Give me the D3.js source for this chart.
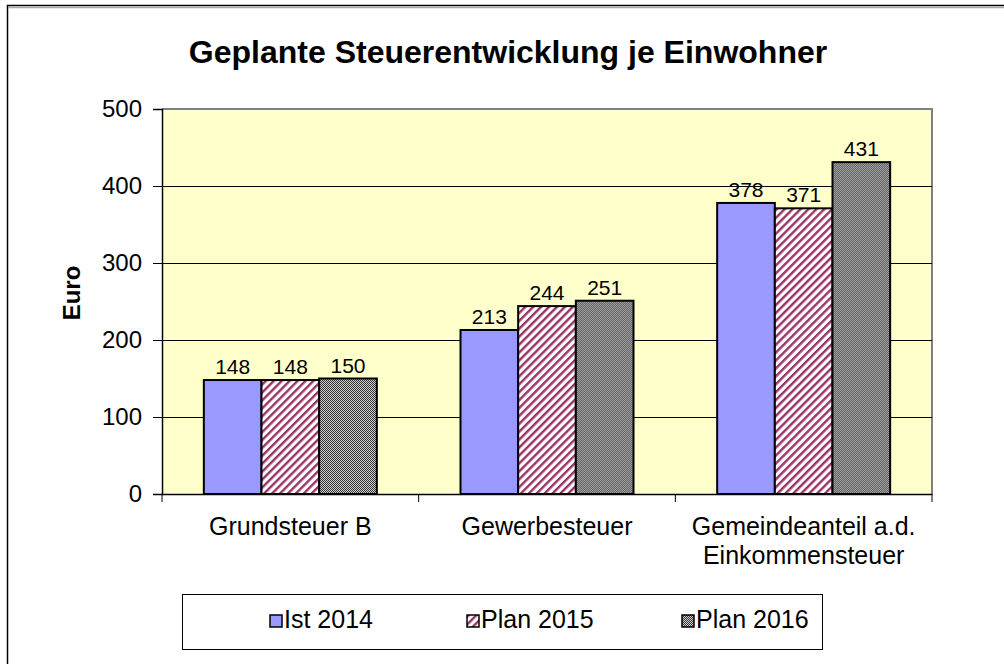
<!DOCTYPE html>
<html>
<head>
<meta charset="utf-8">
<script src="https://cdn.jsdelivr.net/npm/d3@7"></script>
<style>
  body { margin: 0; background: #fff; }
  svg { display: block; font-family: "Liberation Sans", Arial, sans-serif; }
</style>
</head>
<body>
<svg id="svg"></svg>
<script>
const categories = ["Grundsteuer B", "Gewerbesteuer", "Gemeindeanteil a.d.|Einkommensteuer"];
const seriesNames = ["Ist 2014", "Plan 2015", "Plan 2016"];
const ist2014 = [148, 213, 378];
const plan2015 = [148, 244, 371];
const plan2016 = [150, 251, 431];
const yTicks = [0, 100, 200, 300, 400, 500];

const width = 1004, height = 664;
const plot = { left: 162, right: 932, top: 109, bottom: 494 };

const svg = d3.select("#svg").attr("width", width).attr("height", height);

// patterns
const defs = svg.append("defs");
const stripe = defs.append("pattern")
    .attr("id", "stripe").attr("patternUnits", "userSpaceOnUse")
    .attr("width", 5.6).attr("height", 5.6)
    .attr("patternTransform", "rotate(45)");
stripe.append("rect").attr("width", 5.6).attr("height", 5.6).attr("fill", "#fff");
stripe.append("rect").attr("width", 2.4).attr("height", 5.6).attr("fill", "#993366");

const dots = defs.append("pattern")
    .attr("id", "dots").attr("patternUnits", "userSpaceOnUse")
    .attr("width", 2).attr("height", 2);
dots.append("rect").attr("width", 2).attr("height", 2).attr("fill", "#cfcfcf");
dots.append("rect").attr("width", 1).attr("height", 1).attr("fill", "#333");
dots.append("rect").attr("x", 1).attr("y", 1).attr("width", 1).attr("height", 1).attr("fill", "#333");

const fills = ["#9999ff", "url(#stripe)", "url(#dots)"];

// outer chart border (top + left only visible)
svg.append("rect").attr("x", 7.5).attr("y", 5.5).attr("width", 1100).attr("height", 800)
    .attr("fill", "none").attr("stroke", "#000").attr("stroke-width", 1.5);
svg.append("line").attr("x1", 8).attr("x2", 1004).attr("y1", 7.5).attr("y2", 7.5)
    .attr("stroke", "#aaa").attr("stroke-width", 1.5);

// title
svg.append("text").attr("x", 508).attr("y", 63).attr("text-anchor", "middle")
    .attr("font-size", 32).attr("font-weight", "bold").text("Geplante Steuerentwicklung je Einwohner");

const x0 = d3.scaleBand().domain(categories).range([plot.left, plot.right]);
const bw = x0.bandwidth() * 0.674;
const x1 = d3.scaleBand().domain(seriesNames)
    .range([(x0.bandwidth() - bw) / 2, (x0.bandwidth() + bw) / 2]);
const y = d3.scaleLinear().domain([0, 500]).range([plot.bottom, plot.top]);

// plot background
svg.append("rect").attr("x", plot.left).attr("y", plot.top)
    .attr("width", plot.right - plot.left).attr("height", plot.bottom - plot.top)
    .attr("fill", "#ffffcc");
svg.append("path")
    .attr("d", `M${plot.left},${plot.top}H${plot.right}V${plot.bottom}`)
    .attr("fill", "none").attr("stroke", "#808080").attr("stroke-width", 2);

// gridlines
svg.append("g").selectAll("line").data(yTicks.filter(d => d > 0 && d < 500)).join("line")
    .attr("x1", plot.left).attr("x2", plot.right)
    .attr("y1", d => Math.round(y(d)) + 0.5).attr("y2", d => Math.round(y(d)) + 0.5)
    .attr("stroke", "#000").attr("stroke-width", 1);

// y axis
const yAxis = svg.append("g").attr("transform", `translate(${plot.left},0)`)
    .call(d3.axisLeft(y).tickValues(yTicks).tickSize(9).tickPadding(11));
yAxis.select(".domain").attr("stroke", "#000").attr("stroke-width", 1.5);
yAxis.selectAll(".tick line").attr("stroke", "#000");
yAxis.selectAll(".tick text").attr("font-size", 24).attr("fill", "#000")
    .attr("font-family", "Liberation Sans, Arial, sans-serif");

svg.append("text").attr("transform", "translate(80,293) rotate(-90)")
    .attr("text-anchor", "middle").attr("font-size", 24).attr("font-weight", "bold").text("Euro");

// x axis
const xAxis = svg.append("g").attr("transform", `translate(0,${plot.bottom})`)
    .call(d3.axisBottom(x0).tickSize(0).tickFormat(""));
xAxis.select(".domain").attr("stroke", "#000").attr("stroke-width", 1.5);
svg.append("g").selectAll("line").data(d3.range(categories.length + 1)).join("line")
    .attr("x1", i => plot.left + i * x0.step()).attr("x2", i => plot.left + i * x0.step())
    .attr("y1", plot.bottom).attr("y2", plot.bottom + 8).attr("stroke", "#000");

svg.append("g").selectAll("text").data(categories).join("text")
    .attr("text-anchor", "middle").attr("font-size", 25)
    .attr("x", d => x0(d) + x0.bandwidth() / 2)
    .each(function (d) {
      d.split("|").forEach((line, i) => {
        d3.select(this).append("tspan").attr("x", x0(d) + x0.bandwidth() / 2)
          .attr("y", 535 + i * 29).text(line);
      });
    });

// bars
const allSeries = [ist2014, plan2015, plan2016];
const rows = categories.map((c, i) => seriesNames.map((s, j) => ({ cat: c, name: s, value: allSeries[j][i], idx: j })));

const groups = svg.append("g").selectAll("g").data(rows).join("g")
    .attr("transform", d => `translate(${x0(d[0].cat)},0)`);
groups.selectAll("rect").data(d => d).join("rect")
    .attr("x", d => x1(d.name)).attr("width", x1.bandwidth())
    .attr("y", d => y(d.value)).attr("height", d => y(0) - y(d.value))
    .attr("fill", d => fills[d.idx]).attr("stroke", "#000").attr("stroke-width", 2);
groups.selectAll("text").data(d => d).join("text")
    .attr("x", d => x1(d.name) + x1.bandwidth() / 2).attr("y", d => y(d.value) - 6)
    .attr("text-anchor", "middle").attr("font-size", 21).text(d => d.value);

// legend
svg.append("rect").attr("x", 182.5).attr("y", 594.5).attr("width", 640).attr("height", 55)
    .attr("fill", "#fff").attr("stroke", "#000").attr("stroke-width", 1);
const legendX = [270, 467, 682];
const items = svg.append("g").selectAll("g").data(seriesNames).join("g")
    .attr("transform", (d, i) => `translate(${legendX[i]},615)`);
items.append("rect").attr("width", 12).attr("height", 12)
    .attr("fill", (d, i) => fills[i]).attr("stroke", "#000").attr("stroke-width", 1.5);
items.append("text").attr("x", 14).attr("y", 13).attr("font-size", 25).text(d => d);
</script>
</body>
</html>
